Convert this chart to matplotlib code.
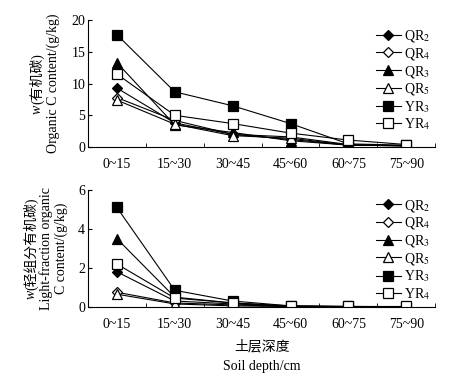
import matplotlib.pyplot as plt
from matplotlib.transforms import IdentityTransform
import numpy as np

plt.rcParams['font.family'] = ['Liberation Serif', 'Noto Sans CJK SC']
plt.rcParams['mathtext.fontset'] = 'stix'
plt.rcParams['font.size'] = 10

depths = ["0~15", "15~30", "30~45", "45~60", "60~75", "75~90"]
series = ["QR$_2$", "QR$_4$", "QR$_3$", "QR$_5$", "YR$_3$", "YR$_4$"]
markers = ["D", "D", "^", "^", "s", "s"]
fills = ["black", "white", "black", "white", "black", "white"]
msizes = [5, 5, 6.5, 6.5, 7.5, 7.5]

# 有机碳 organic C (g/kg)
oc_QR2 = [9.3, 3.8, 2.0, 1.2, 0.3, 0.2]
oc_QR4 = [7.8, 4.2, 2.0, 1.6, 0.4, 0.2]
oc_QR3 = [13.3, 3.5, 2.3, 1.0, 0.3, 0.2]
oc_QR5 = [7.4, 3.6, 1.8, 1.4, 0.3, 0.2]
oc_YR3 = [17.7, 8.7, 6.5, 3.7, 0.5, 0.3]
oc_YR4 = [11.5, 5.0, 3.7, 2.2, 1.1, 0.4]

# 轻组分有机碳 light-fraction organic C (g/kg)
lf_QR2 = [1.8, 0.3, 0.15, 0.03, 0.01, 0.01]
lf_QR4 = [0.75, 0.2, 0.1, 0.02, 0.01, 0.01]
lf_QR3 = [3.5, 0.5, 0.2, 0.03, 0.02, 0.01]
lf_QR5 = [0.65, 0.15, 0.05, 0.02, 0.01, 0.01]
lf_YR3 = [5.1, 0.85, 0.3, 0.05, 0.02, 0.01]
lf_YR4 = [2.2, 0.45, 0.2, 0.05, 0.02, 0.02]

oc = [oc_QR2, oc_QR4, oc_QR3, oc_QR5, oc_YR3, oc_YR4]
lf = [lf_QR2, lf_QR4, lf_QR3, lf_QR5, lf_YR3, lf_YR4]

fig = plt.figure(figsize=(4.51, 3.86), dpi=100)
ax1 = fig.add_axes([0.195, 0.619, 0.77, 0.329])
ax2 = fig.add_axes([0.195, 0.205, 0.77, 0.303])

x = np.arange(len(depths))


def draw(ax, data, ymax, yticks):
    for vals, lab, m, fc, ms in zip(data, series, markers, fills, msizes):
        ax.plot(x, vals, color="black", linewidth=0.8, marker=m,
                markerfacecolor=fc, markeredgecolor="black",
                markeredgewidth=0.9, markersize=ms, label=lab)
    ax.set_xlim(-0.5, 5.5)
    ax.set_ylim(0, ymax)
    ax.set_yticks(yticks)
    ax.set_xticks(x)
    ax.set_xticklabels(depths)
    ax.set_xticks(np.arange(-0.5, 6, 1), minor=True)
    ax.tick_params(axis="x", which="major", length=0, pad=8)
    ax.tick_params(axis="x", which="minor", direction="in", length=3)
    ax.tick_params(axis="y", direction="in", length=3, pad=2)
    ax.spines["top"].set_visible(False)
    ax.spines["right"].set_visible(False)
    ax.legend(loc="upper right", bbox_to_anchor=(1.0, 0.98), frameon=False,
              handlelength=1.8, handletextpad=0.2, labelspacing=0.12,
              borderaxespad=0, fontsize=10)


draw(ax1, oc, 20, [0, 5, 10, 15, 20])
draw(ax2, lf, 6, [0, 2, 4, 6])
ax2.set_xlabel("土层深度\nSoil depth/cm", linespacing=1.7, labelpad=6)

renderer = fig.canvas.get_renderer()
H = fig.bbox.height


# rotated y label made of segments (so "w" can be italic next to CJK text)
def vlabel(xpix, ytop_ref, ybot_ref, segments):
    yc = H - (ytop_ref + ybot_ref) / 2
    texts = []
    for s, st in segments:
        t = fig.text(0, 0, s, rotation=90, fontstyle=st, ha="center",
                     va="bottom", transform=IdentityTransform())
        texts.append(t)
    lens = [t.get_window_extent(renderer).height for t in texts]
    y = yc - sum(lens) / 2
    for t, l in zip(texts, lens):
        t.set_position((xpix, y))
        y += l


vlabel(37, 20, 147, [("w", "italic"), ("(有机碳)", "normal")])
vlabel(53, 20, 147, [("Organic C content/(g/kg)", "normal")])
vlabel(31, 190, 307, [("w", "italic"), ("(轻组分有机碳)", "normal")])
vlabel(46, 190, 307, [("Light-fraction organic", "normal")])
vlabel(61, 190, 307, [("C content/(g/kg)", "normal")])

fig.savefig("out.png", dpi=100)
